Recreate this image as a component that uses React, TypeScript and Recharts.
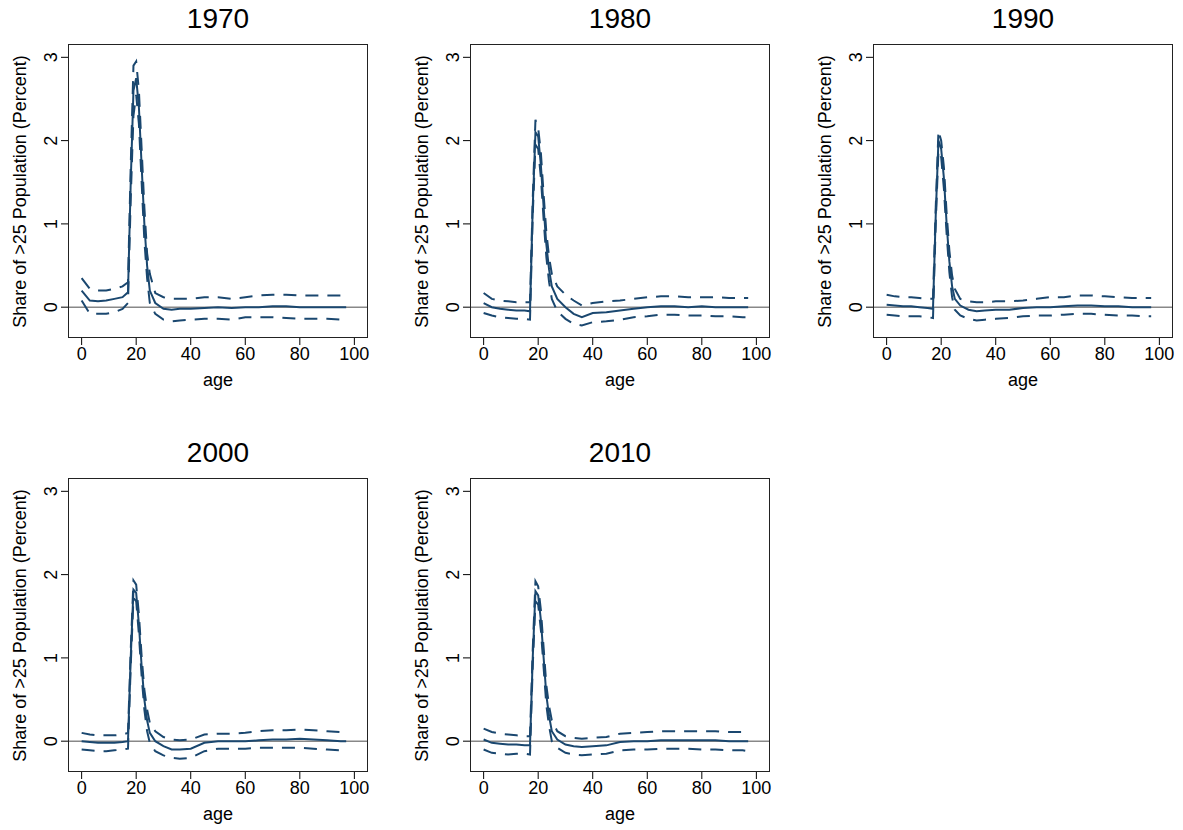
import { LineChart, Line, XAxis, YAxis, ReferenceLine } from 'recharts';

const ages = [0, 3, 6, 9, 12, 15, 17, 18, 19, 20, 21, 22, 23, 24, 25, 27, 30, 33, 36, 40, 45, 50, 55, 60, 65, 70, 75, 80, 85, 90, 95, 97];

const est1970 = [0.2, 0.08, 0.07, 0.08, 0.1, 0.12, 0.18, 1.5, 2.6, 2.75, 2.4, 1.7, 1.0, 0.5, 0.2, 0.05, -0.02, -0.03, -0.02, -0.02, -0.01, 0, -0.01, 0, 0, 0.01, 0.01, 0, 0, 0, 0, 0];
const hi1970 = [0.35, 0.22, 0.2, 0.2, 0.22, 0.25, 0.3, 1.7, 2.9, 2.95, 2.6, 1.9, 1.2, 0.65, 0.4, 0.17, 0.12, 0.1, 0.1, 0.1, 0.12, 0.12, 0.1, 0.12, 0.14, 0.15, 0.15, 0.14, 0.14, 0.14, 0.14, 0.14];
const lo1970 = [0.08, -0.08, -0.08, -0.08, -0.06, -0.02, 0.05, 1.3, 2.3, 2.55, 2.2, 1.5, 0.8, 0.35, 0.05, -0.08, -0.15, -0.17, -0.16, -0.15, -0.14, -0.14, -0.15, -0.12, -0.12, -0.12, -0.13, -0.14, -0.14, -0.14, -0.15, -0.15];

const est1980 = [0.05, 0, -0.02, -0.03, -0.04, -0.04, -0.05, 1.2, 2.1, 2.05, 1.7, 1.2, 0.75, 0.45, 0.25, 0.1, 0, -0.08, -0.12, -0.07, -0.06, -0.04, -0.02, 0, 0.01, 0.01, 0, 0.01, 0, 0, 0, 0];
const hi1980 = [0.17, 0.1, 0.08, 0.07, 0.06, 0.06, 0.06, 1.3, 2.25, 2.15, 1.85, 1.35, 0.9, 0.6, 0.4, 0.25, 0.15, 0.08, 0.02, 0.05, 0.07, 0.08, 0.1, 0.12, 0.13, 0.13, 0.12, 0.12, 0.12, 0.11, 0.11, 0.11];
const lo1980 = [-0.07, -0.1, -0.12, -0.13, -0.14, -0.14, -0.15, 1.1, 1.95, 1.9, 1.55, 1.05, 0.6, 0.3, 0.1, -0.05, -0.14, -0.2, -0.22, -0.18, -0.17, -0.15, -0.12, -0.11, -0.09, -0.09, -0.1, -0.1, -0.11, -0.11, -0.12, -0.12];

const est1990 = [0.03, 0.02, 0.01, 0.01, 0, -0.01, -0.02, 1.1, 2.0, 1.9, 1.55, 1.0, 0.55, 0.25, 0.1, 0.02, -0.03, -0.05, -0.04, -0.03, -0.03, -0.01, 0, 0, 0.01, 0.02, 0.02, 0.01, 0.01, 0, 0, 0];
const hi1990 = [0.15, 0.13, 0.12, 0.12, 0.11, 0.1, 0.1, 1.2, 2.12, 2.0, 1.68, 1.13, 0.68, 0.38, 0.22, 0.1, 0.07, 0.06, 0.06, 0.07, 0.07, 0.08, 0.1, 0.12, 0.12, 0.14, 0.14, 0.13, 0.12, 0.11, 0.11, 0.11];
const lo1990 = [-0.09, -0.1, -0.11, -0.11, -0.11, -0.12, -0.13, 1.0, 1.88, 1.8, 1.42, 0.88, 0.42, 0.12, -0.03, -0.1, -0.14, -0.16, -0.15, -0.14, -0.13, -0.11, -0.1, -0.1, -0.09, -0.08, -0.08, -0.09, -0.1, -0.1, -0.11, -0.11];

const est2000 = [0, -0.01, -0.02, -0.02, -0.02, -0.01, 0, 1.0, 1.82, 1.78, 1.4, 0.9, 0.5, 0.25, 0.1, 0, -0.06, -0.1, -0.1, -0.09, -0.02, 0, 0, 0, 0.01, 0.02, 0.02, 0.03, 0.02, 0.01, 0, 0];
const hi2000 = [0.1, 0.08, 0.07, 0.07, 0.07, 0.08, 0.1, 1.1, 1.93, 1.88, 1.52, 1.02, 0.62, 0.38, 0.22, 0.12, 0.05, 0.02, 0.01, 0.02, 0.08, 0.09, 0.09, 0.1, 0.12, 0.13, 0.13, 0.14, 0.13, 0.12, 0.11, 0.11];
const lo2000 = [-0.1, -0.11, -0.12, -0.12, -0.11, -0.1, -0.09, 0.9, 1.72, 1.68, 1.28, 0.78, 0.38, 0.12, -0.02, -0.12, -0.17, -0.2, -0.21, -0.2, -0.12, -0.09, -0.09, -0.09, -0.08, -0.08, -0.08, -0.08, -0.09, -0.1, -0.11, -0.11];

const est2010 = [0.02, -0.02, -0.03, -0.04, -0.04, -0.05, -0.05, 1.0, 1.8, 1.75, 1.45, 1.0, 0.55, 0.3, 0.12, 0.02, -0.04, -0.06, -0.07, -0.06, -0.05, -0.01, 0, 0, 0.01, 0.01, 0.01, 0.01, 0.01, 0, 0, 0];
const hi2010 = [0.15, 0.11, 0.09, 0.08, 0.07, 0.06, 0.06, 1.1, 1.92, 1.86, 1.57, 1.12, 0.67, 0.42, 0.25, 0.12, 0.06, 0.04, 0.03, 0.04, 0.05, 0.09, 0.1, 0.11, 0.12, 0.12, 0.12, 0.12, 0.12, 0.11, 0.11, 0.11];
const lo2010 = [-0.1, -0.14, -0.15, -0.16, -0.15, -0.15, -0.16, 0.9, 1.68, 1.64, 1.33, 0.88, 0.43, 0.18, 0.0, -0.08, -0.14, -0.16, -0.17, -0.16, -0.15, -0.11, -0.1, -0.1, -0.09, -0.09, -0.09, -0.1, -0.1, -0.11, -0.11, -0.12];

const years = ['1970', '1980', '1990', '2000', '2010'];
const series = [
  [est1970, lo1970, hi1970],
  [est1980, lo1980, hi1980],
  [est1990, lo1990, hi1990],
  [est2000, lo2000, hi2000],
  [est2010, lo2010, hi2010],
];
const xTicks = [0, 20, 40, 60, 80, 100];
const yTicks = [0, 1, 2, 3];

const positions = [
  { left: 68, top: 44 },
  { left: 470, top: 44 },
  { left: 873, top: 44 },
  { left: 68, top: 478 },
  { left: 470, top: 478 },
];

const NAVY = '#1a476f';
const FONT = 'Liberation Sans, Arial, sans-serif';

const YTick = (props: any) => {
  const { x, y, payload } = props;
  return (
    <text x={x - 2} y={y} transform={`rotate(-90 ${x - 2} ${y})`} textAnchor="middle" fontSize={18} fill="#000" fontFamily={FONT}>
      {payload.value}
    </text>
  );
};

const Panel = ({ idx }: { idx: number }) => {
  const [est, lo, hi] = series[idx];
  const data = ages.map((a, i) => ({ age: a, est: est[i], lo: lo[i], hi: hi[i] }));
  const pos = positions[idx];
  return (
    <div style={{ position: 'absolute', left: pos.left - 60, top: pos.top - 44 }}>
      <div style={{ position: 'absolute', left: 60, top: 3, width: 300, textAlign: 'center', fontSize: 28, fontFamily: FONT }}>
        {years[idx]}
      </div>
      <div
        style={{
          position: 'absolute', left: 0, top: 44, width: 24, height: 294, display: 'flex', alignItems: 'center', justifyContent: 'center',
        }}
      >
        <div style={{ transform: 'rotate(-90deg)', whiteSpace: 'nowrap', fontSize: 18, fontFamily: FONT }}>
          Share of &gt;25 Population (Percent)
        </div>
      </div>
      <div style={{ position: 'absolute', left: 60, top: 370, width: 300, textAlign: 'center', fontSize: 18, fontFamily: FONT }}>age</div>
      <LineChart width={370} height={398} data={data} margin={{ top: 44, left: 0, right: 10, bottom: 0 }}>
        <XAxis dataKey="age" type="number" domain={[-5, 105]} ticks={xTicks} axisLine={false} tickSize={7}
          tick={{ fontSize: 18, fill: '#000', fontFamily: FONT }} height={60} stroke="#000" />
        <YAxis type="number" domain={[-0.37, 3.16]} ticks={yTicks} axisLine={false} tickSize={7} width={60}
          tick={<YTick />} stroke="#000" allowDataOverflow />
        <ReferenceLine y={0} stroke="#888" strokeWidth={1.5} />
        <Line dataKey="hi" stroke={NAVY} strokeWidth={2} strokeDasharray="13 9" dot={false} isAnimationActive={false} />
        <Line dataKey="lo" stroke={NAVY} strokeWidth={2} strokeDasharray="13 9" dot={false} isAnimationActive={false} />
        <Line dataKey="est" stroke={NAVY} strokeWidth={2} dot={false} isAnimationActive={false} />
      </LineChart>
      <div style={{ position: 'absolute', left: 60, top: 44, width: 300, height: 294, border: '1.5px solid #222', boxSizing: 'border-box', pointerEvents: 'none' }} />
    </div>
  );
};

export default function App() {
  return (
    <div style={{ position: 'fixed', left: 0, top: 0, width: 1183, height: 830, background: '#fff' }}>
      {years.map((_, i) => (
        <Panel key={i} idx={i} />
      ))}
    </div>
  );
}
